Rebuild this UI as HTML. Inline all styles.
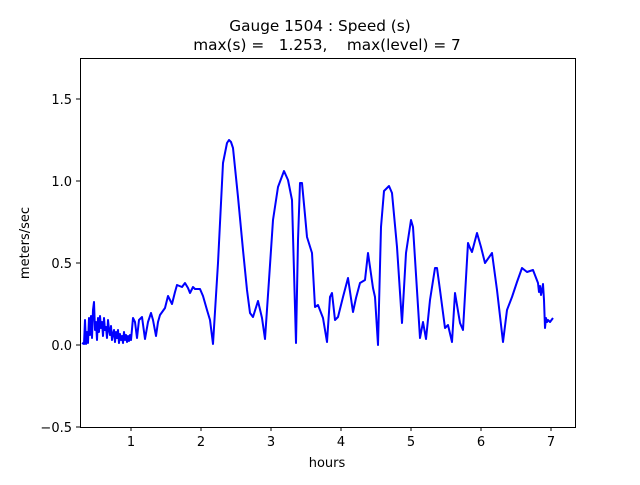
<!DOCTYPE html>
<html><head><style>body{margin:0;background:#fff}</style></head><body>
<svg width="640" height="480" xmlns="http://www.w3.org/2000/svg" font-family="DejaVu Sans, sans-serif">
<rect width="640" height="480" fill="#fff"/>
<text x="320" y="31" text-anchor="middle" font-size="15.3">Gauge 1504 : Speed (s)</text>
<text x="327" y="50" text-anchor="middle" font-size="15.3" xml:space="preserve">max(s) =   1.253,    max(level) = 7</text>
<polyline fill="none" stroke="#0000ff" stroke-width="2" stroke-linejoin="round" points="82,343 84,344 85,320 86,344 87,332 88,343 89,318 90,335 91,316 92,338 93,310 94,302 95,330 96,322 97,340 98,318 99,332 100,316 101,328 102,322 103,336 104,318 105,330 106,327 107,338 108,320 109,330 110,335 111,326 112,340 113,334 114,330 115,342 116,332 117,338 118,330 119,343 120,334 121,340 122,336 123,343 124,332 125,340 126,335 127,342 128,336 129,341 130,335 131,340 133,318 135,322 137,338 139,320 142,317 145,339 148,322 151,313 153,320 156,336 158,322 160,315 165,308 168,296 172,304 175,292 177,285 182,287 185,283 188,288 190,293 193,287 195,289 200,289 203,296 207,310 210,320 213,344 218,263 223,163 227,143 229,140 231,142 233,148 238,197 243,250 247,290 250,313 253,317 258,301 262,318 265,339 269,280 273,220 278,187 284,171 288,180 292,200 296,343 298,240 300,183 302,183 305,215 307,237 312,253 315,307 318,305 323,318 327,342 330,297 332,293 335,320 338,317 343,297 348,278 353,312 356,298 360,283 365,280 368,253 373,288 375,297 378,345 381,227 384,191 389,186 392,193 397,247 402,323 406,253 411,220 413,227 420,338 423,322 426,339 430,300 435,268 437,268 440,290 445,328 448,325 452,342 455,293 460,323 463,330 468,243 470,248 472,252 477,233 481,247 485,263 492,253 497,290 503,342 507,310 512,297 517,282 522,268 527,272 533,270 538,283 539,292 540,286 541,295 542,290 543,284 544,300 545,328 546,318 547,322 548,320 550,322 553,318"/>
<rect x="80.5" y="58.5" width="495" height="369" stroke="#000" stroke-width="1" fill="none"/>
<g stroke="#000" stroke-width="1">
<line x1="131" y1="427" x2="131" y2="431"/><line x1="201" y1="427" x2="201" y2="431"/><line x1="271" y1="427" x2="271" y2="431"/><line x1="341" y1="427" x2="341" y2="431"/><line x1="411" y1="427" x2="411" y2="431"/><line x1="481" y1="427" x2="481" y2="431"/><line x1="551" y1="427" x2="551" y2="431"/>
<line x1="76" y1="427" x2="80" y2="427"/><line x1="76" y1="345" x2="80" y2="345"/><line x1="76" y1="263" x2="80" y2="263"/><line x1="76" y1="181" x2="80" y2="181"/><line x1="76" y1="99" x2="80" y2="99"/>
</g>
<g font-size="13" text-anchor="middle">
<text x="131" y="446">1</text><text x="201" y="446">2</text><text x="271" y="446">3</text><text x="341" y="446">4</text><text x="411" y="446">5</text><text x="481" y="446">6</text><text x="551" y="446">7</text>
<text x="327" y="467">hours</text>
</g>
<g font-size="13" text-anchor="end">
<text x="72" y="432">−0.5</text><text x="72" y="350">0.0</text><text x="72" y="268">0.5</text><text x="72" y="186">1.0</text><text x="72" y="104">1.5</text>
</g>
<text transform="translate(29,243) rotate(-90)" font-size="13" text-anchor="middle">meters/sec</text>
</svg>
</body></html>
